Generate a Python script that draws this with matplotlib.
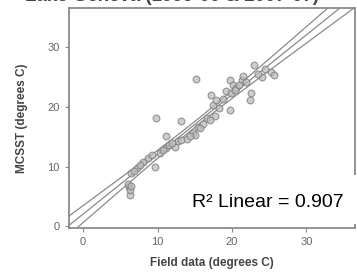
import numpy as np
import matplotlib
matplotlib.use("Agg")
import matplotlib.pyplot as plt
from matplotlib.patches import Rectangle

plt.rcParams['font.family'] = ['Liberation Sans', 'DejaVu Sans']

# field data vs MCSST (degrees C)
field = [15.2, 9.85, 13.1, 11.2, 6.2, 6.3, 6.3, 6.5, 7.2, 8.05, 9.6, 10.3, 11.2, 12.3,
         12.75, 13.9, 14.8, 15.0, 15.4, 16.1, 16.6, 17.7, 17.2, 17.4, 17.8, 19.7, 19.2,
         19.7, 20.1, 20.6, 21.3, 21.5, 22.6, 22.4, 23.0, 25.3, 25.7, 24.5, 24.0,
         6.9, 7.6, 8.7, 9.2, 10.7, 11.6, 11.9, 13.2, 14.3, 15.7, 17.0, 18.3, 18.8,
         19.9, 20.4, 21.0, 21.9, 23.5, 6.1, 6.4]
mcsst = [24.7, 18.2, 17.7, 15.2, 6.6, 5.2, 6.0, 8.9, 9.7, 10.8, 10.0, 12.2, 13.1, 13.3,
         14.2, 14.7, 15.6, 15.3, 16.7, 17.2, 18.1, 18.4, 22.0, 20.3, 21.1, 19.5, 22.6,
         24.5, 23.7, 23.1, 24.5, 25.1, 22.3, 21.2, 27.0, 25.9, 25.3, 26.3, 25.0,
         9.2, 10.3, 11.4, 11.9, 12.8, 13.6, 13.9, 14.5, 15.2, 16.4, 17.8, 19.8, 21.4,
         22.3, 22.8, 23.7, 24.2, 25.6, 7.0, 6.8]

xticks = [0, 10, 20, 30]
yticks = [0, 10, 20, 30]

x = np.array(field)
y = np.array(mcsst)

#Linear fit + 95% CI of the mean
b, a = np.polyfit(x, y, 1)
n = len(x)
resid = y - (a + b * x)
s = np.sqrt(np.sum(resid ** 2) / (n - 2))
sxx = np.sum((x - x.mean()) ** 2)
xs = np.linspace(-2, 37, 200)
fit = a + b * xs
se = s * np.sqrt(1 / n + (xs - x.mean()) ** 2 / sxx)
t = 2.0

fig = plt.figure(figsize=(3.57, 2.73), dpi=100)
ax = fig.add_axes([0.193, 0.165, 0.801, 0.806])

ax.scatter(x, y, s=24, facecolor='#bdbdbd', edgecolor='#7a7a7a', linewidth=0.8, alpha=0.75, zorder=3)
ax.plot(xs, fit, color='#8a8a8a', lw=0.9, zorder=2)
ax.plot(xs, fit + t * se, color='#8a8a8a', lw=0.9, zorder=2)
ax.plot(xs, fit - t * se, color='#8a8a8a', lw=0.9, zorder=2)

ax.set_xlim(-1.9, 36.5)
ax.set_ylim(-0.3, 36.6)
ax.set_xticks(xticks)
ax.set_yticks(yticks)
ax.tick_params(colors='#8a8a8a', labelcolor='#666666', labelsize=8, length=3, width=0.8)
for sp in ax.spines.values():
    sp.set_color('#8a8a8a')
    sp.set_linewidth(1.3)

ax.set_xlabel("Field data (degrees C)", fontsize=8.5, fontweight='bold', color='#444444', labelpad=7)
ax.set_ylabel("MCSST (degrees C)", fontsize=8.5, fontweight='bold', color='#444444', labelpad=14)

# title cut off at the top
fig.text(0.482, 0.997, "Lake Geneva (1999-00 & 2007-07)", ha='center', va='baseline',
         fontsize=13.5, fontweight='bold', color='#444444')

# R2 box
fig.patches.append(Rectangle((186 / 357, (273 - 224) / 273), 171 / 357, 49 / 273,
                             transform=fig.transFigure, facecolor='white', edgecolor='none', zorder=5))
fig.text(192 / 357, (273 - 207) / 273, "R² Linear = 0.907", fontsize=14, color='black',
         ha='left', va='baseline', zorder=6)

fig.savefig("out.png", dpi=100)
